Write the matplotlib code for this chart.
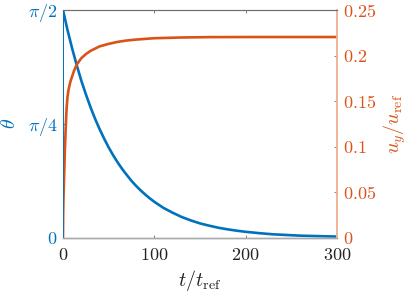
import numpy as np
import matplotlib
matplotlib.use("Agg")
import matplotlib.pyplot as plt

plt.rcParams['mathtext.fontset'] = 'cm'
plt.rcParams['font.family'] = 'serif'
plt.rcParams['font.serif'] = ['cmr10', 'DejaVu Serif']
plt.rcParams['axes.formatter.use_mathtext'] = True

# theta (as fraction of pi/2) vs time
t_theta = [0, 5, 10, 15, 20, 25, 30, 35, 40, 45, 50, 55, 60, 65, 70, 75, 80,
           85, 90, 95, 100, 110, 120, 130, 140, 150, 160, 170, 180, 190, 200,
           215, 230, 245, 260, 280, 300]
theta_frac = [1.0, 0.911, 0.831, 0.758, 0.690, 0.630, 0.574, 0.523, 0.477,
              0.435, 0.396, 0.361, 0.329, 0.300, 0.274, 0.249, 0.227, 0.207,
              0.189, 0.172, 0.157, 0.130, 0.109, 0.090, 0.075, 0.062, 0.052,
              0.043, 0.036, 0.030, 0.025, 0.019, 0.014, 0.011, 0.008, 0.006,
              0.004]
theta = [f * np.pi / 2 for f in theta_frac]

# u_y/u_ref vs time
t_u = [0, 0.2, 0.5, 1, 1.5, 2, 2.5, 3, 4, 5, 6, 8, 10, 12, 15, 20, 25, 30, 40,
       50, 60, 70, 80, 100, 130, 160, 200, 300]
u_y = [0, 0.025, 0.042, 0.060, 0.076, 0.095, 0.108, 0.122, 0.143, 0.155,
       0.162, 0.171, 0.177, 0.183, 0.190, 0.197, 0.2015, 0.205, 0.210, 0.2128,
       0.2150, 0.2165, 0.2175, 0.2190, 0.2198, 0.2202, 0.2203, 0.2203]

x_ticks = [0, 100, 200, 300]
x_ticklabels = ['$0$', '$100$', '$200$', '$300$']
theta_ticks = [0, np.pi / 4, np.pi / 2]
theta_ticklabels = ['$0$', r'$\pi/4$', r'$\pi/2$']
u_ticks = [0, 0.05, 0.1, 0.15, 0.2, 0.25]
u_ticklabels = ['$0$', '$0.05$', '$0.1$', '$0.15$', '$0.2$', '$0.25$']

blue = '#0072BD'
orange = '#D95319'

fig = plt.figure(figsize=(4.07, 2.92), dpi=100)
ax = fig.add_axes([63 / 407, 1 - 237.5 / 292, 274 / 407, 227.5 / 292])
ax2 = ax.twinx()

ax.plot(t_theta, theta, color=blue, lw=1.9)
ax2.plot(t_u, u_y, color=orange, lw=1.9)

ax.set_xlim(0, 300)
ax.set_ylim(0, np.pi / 2)
ax2.set_ylim(0, 0.25)

ax.set_xticks(x_ticks)
ax.set_xticklabels(x_ticklabels)
ax.set_yticks(theta_ticks)
ax.set_yticklabels(theta_ticklabels)
ax2.set_yticks(u_ticks)
ax2.set_yticklabels(u_ticklabels)

fs_tick = 13
fs_lab = 14.5
ax.tick_params(axis='x', direction='in', length=2.5, width=0.6, color='#666666',
               labelsize=fs_tick, labelcolor='#222222', pad=6.5, top=True)
ax.tick_params(axis='y', direction='in', length=2.5, width=0.6, color=blue,
               labelsize=fs_tick, labelcolor=blue, pad=4)
ax2.tick_params(axis='y', direction='in', length=2.5, width=0.6, color=orange,
                labelsize=fs_tick, labelcolor=orange, pad=4)

for a in (ax, ax2):
    a.spines['top'].set_color('#707070')
    a.spines['top'].set_linewidth(0.8)
    a.spines['bottom'].set_color('#aaaaaa')
    a.spines['bottom'].set_linewidth(1.0)
    a.spines['left'].set_color(blue)
    a.spines['left'].set_linewidth(0.6)
    a.spines['right'].set_color('#f0b498')
    a.spines['right'].set_linewidth(1.2)

ax.set_xlabel(r'$t/t_{\mathrm{ref}}$', fontsize=fs_lab, color='#222222', labelpad=4)
ax.set_ylabel(r'$\theta$', fontsize=fs_lab, color=blue, labelpad=6.5)
ax2.set_ylabel(r'$u_y/u_{\mathrm{ref}}$', fontsize=fs_lab, color=orange, labelpad=4)

fig.savefig('out.png', dpi=100)
